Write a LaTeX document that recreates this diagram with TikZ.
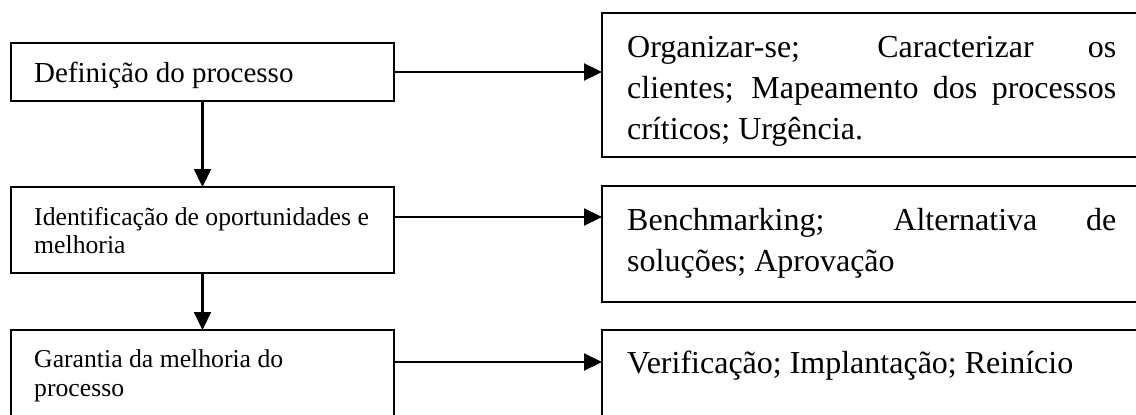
\documentclass[tikz,border=0pt]{standalone}
\usepackage{fontspec}
\setmainfont{Liberation Serif}
\usetikzlibrary{arrows.meta}
\begin{document}
\begin{tikzpicture}[x=1pt, y=-1pt,
  caixa/.style={draw, line width=2.8pt, anchor=north west, inner sep=0pt, outer sep=0pt},
  texto/.style={anchor=base west, inner sep=0pt},
  seta/.style={line width=2.2pt, -{Triangle[length=18pt, width=17pt]}}]
  \useasboundingbox (0,0) rectangle (1136,415);
  \clip (0,0) rectangle (1136,415);
  \node[caixa, minimum width=383pt, minimum height=58pt] (def) at (11,43) {};
  \node[caixa, minimum width=383pt, minimum height=86pt] (ident) at (11,187) {};
  \node[caixa, minimum width=383pt, minimum height=90pt] (gar) at (11,330) {};
  \node[caixa, minimum width=560pt, minimum height=144pt] (org) at (602,13) {};
  \node[caixa, minimum width=560pt, minimum height=116pt] (bench) at (602,186) {};
  \node[caixa, minimum width=560pt, minimum height=100pt] (verif) at (602,330) {};
  \node[texto] (tdef) at (34,82) {\fontsize{29}{35}\selectfont Definição do processo};
  \node[texto] (tident) at (34,225) {\parbox[t]{350pt}{\fontsize{25.7}{28.5}\selectfont Identificação de oportunidades e\\ melhoria}};
  \node[texto] (tgar) at (34,367) {\parbox[t]{350pt}{\fontsize{25.7}{29.5}\selectfont Garantia da melhoria do\\ processo}};
  \node[texto] (torg) at (627,57) {\parbox[t]{489pt}{\fontsize{32}{41}\selectfont Organizar-se; Caracterizar os\linebreak clientes; Mapeamento dos processos\linebreak críticos; Urgência.}};
  \node[texto] (tbench) at (627,230) {\parbox[t]{489pt}{\fontsize{32}{41}\selectfont Benchmarking; Alternativa de\linebreak soluções; Aprovação}};
  \node[texto] (tverif) at (627,373) {\parbox[t]{489pt}{\fontsize{32}{41}\selectfont Verificação; Implantação; Reinício}};
  \coordinate (s2) at ([yshift=13pt]ident.east);
  \coordinate (s3) at ([yshift=13pt]gar.east);
  \draw[seta] (def.east) -- (def.east -| org.west);
  \draw[seta] (s2) -- (s2 -| bench.west);
  \draw[seta] (s3) -- (s3 -| verif.west);
  \draw[seta] (def.south) -- (ident.north);
  \draw[seta] (ident.south) -- (gar.north);
\end{tikzpicture}
\end{document}
